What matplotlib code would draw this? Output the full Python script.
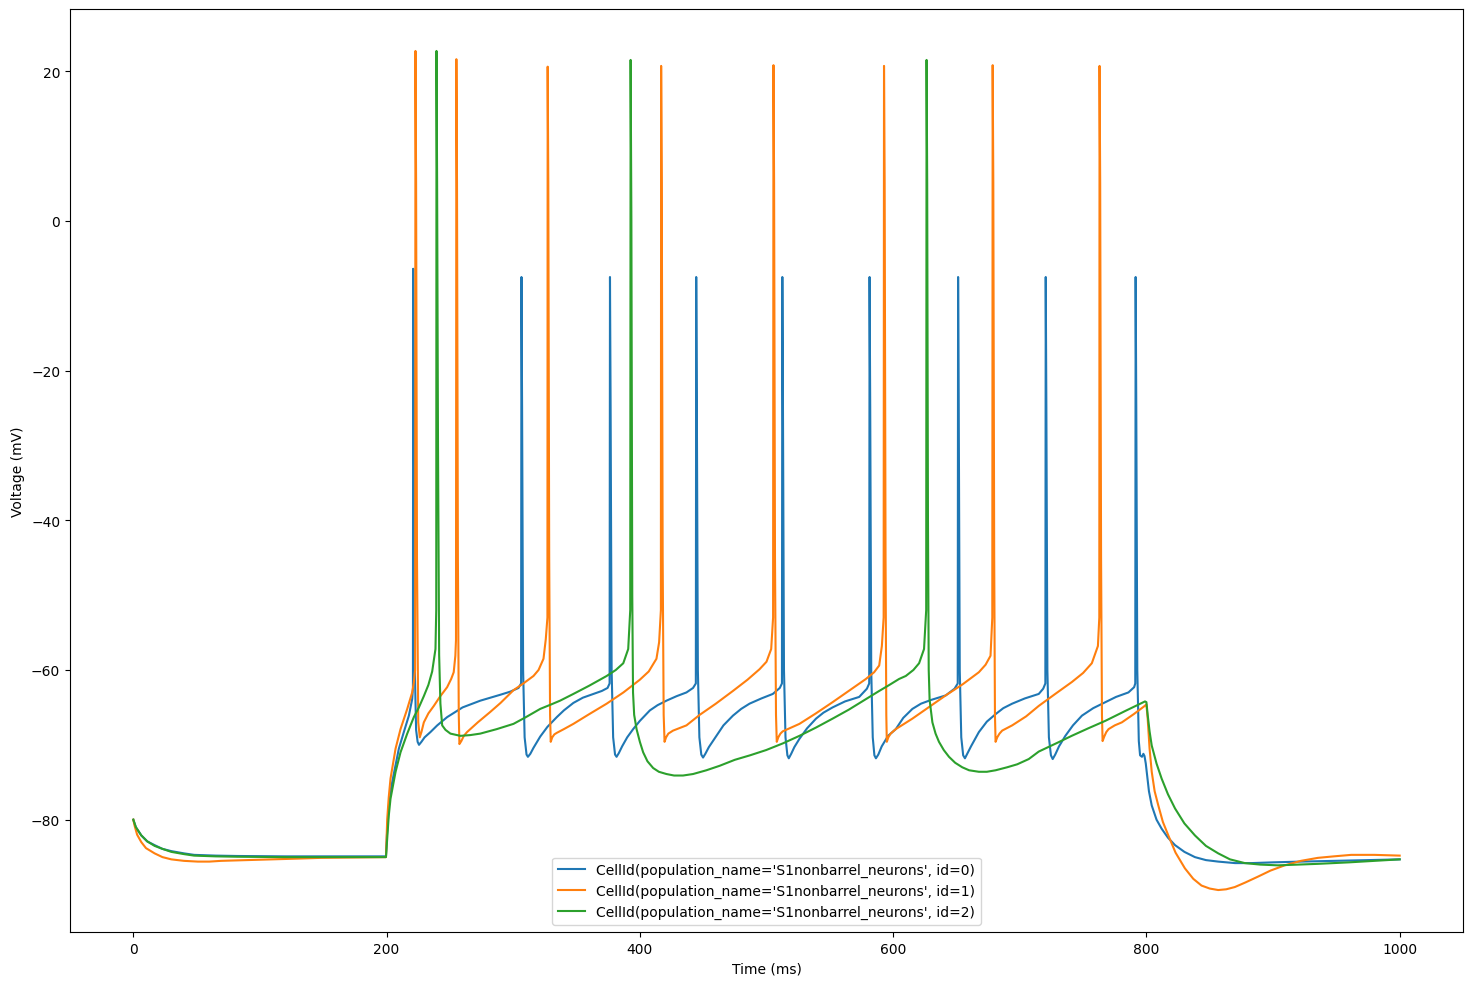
import matplotlib
matplotlib.use("Agg")
import matplotlib.pyplot as plt

labels = [
    "CellId(population_name='S1nonbarrel_neurons', id=0)",
    "CellId(population_name='S1nonbarrel_neurons', id=1)",
    "CellId(population_name='S1nonbarrel_neurons', id=2)",
]

# ---- cell 0 (blue) : time (ms), voltage (mV)
t0 = [0, 2, 6.3, 11, 16.8, 23, 30, 40, 48, 65, 82, 120, 160, 199.5,
      200.3, 201.8, 203.5, 205.8, 209.7, 213.6, 217.6, 220.2, 220.8,
      221.0, 221.5, 222.3, 223.3, 224.5, 225.6, 227.5, 230, 234.6, 240, 247.8, 260, 274, 290, 297.6, 304.2, 306.2,
      306.5, 307.0, 307.8, 309.0, 310.5, 311.6, 313.5, 316, 321.3, 327, 334.4, 340, 347.5, 355, 363.2, 370, 374.5, 376.1,
      376.4, 376.9, 377.7, 378.9, 380.4, 381.6, 383.4, 386, 390, 394.7, 400, 407.9, 414, 421, 429, 436.8, 442.0, 444.2,
      444.5, 445.0, 445.8, 447.0, 448.5, 449.9, 451.7, 454.5, 460.4, 466, 473.5, 480, 486.6, 496, 505, 510.5, 512.2,
      512.5, 513.0, 513.8, 515.0, 516.5, 517.6, 519.5, 522, 526, 532, 539.1, 545, 552.2, 562, 573.2, 579.3, 581.1,
      581.4, 581.9, 582.7, 583.9, 585.2, 586.4, 588.3, 591, 596, 602.1, 608, 615.2, 622, 630, 641.5, 648.5, 651.0,
      651.3, 651.8, 652.6, 653.8, 655.3, 656.7, 658.5, 661.5, 667.7, 674, 680.9, 687, 694, 704, 715, 718.5, 720.2,
      720.5, 721.0, 721.8, 723.0, 724.6, 726.0, 728, 731, 736, 742, 749.1, 758, 767.5, 776, 785.8, 790.3, 791.2,
      791.5, 792.0, 792.8, 794.0, 795.0, 796.5, 797.6, 798.5, 799.5, 800.5, 802, 804.2, 808, 812, 817, 822.6, 830,
      838.3, 847, 856.7, 870, 882.9, 900, 922, 950, 975, 1000]
v0 = [-80.0, -81.0, -82.1, -82.9, -83.4, -83.9, -84.2, -84.5, -84.7, -84.8, -84.85, -84.9, -84.9, -84.9,
      -82.0, -78.2, -75.8, -73.8, -70.5, -68.3, -66.1, -63.9, -62.5,
      -6.4, -25, -60, -68, -69.6, -70.0, -69.6, -69.0, -68.3, -67.4, -66.3, -65.0, -64.1, -63.3, -62.9, -62.4, -61.8,
      -7.5, -25, -60, -69, -71.3, -71.6, -71.2, -70.4, -68.9, -67.6, -66.3, -65.4, -64.4, -63.7, -63.2, -62.8, -62.4, -61.8,
      -7.5, -25, -60, -69, -71.3, -71.6, -71.1, -70.2, -69.0, -67.9, -66.8, -65.4, -64.7, -64.1, -63.5, -63.0, -62.4, -61.8,
      -7.5, -25, -60, -69, -71.3, -71.7, -71.2, -70.3, -68.8, -67.4, -66.1, -65.2, -64.5, -63.8, -63.2, -62.4, -61.8,
      -7.5, -25, -60, -69, -71.4, -71.8, -71.2, -70.3, -69.2, -67.8, -66.5, -65.7, -65.0, -64.2, -63.6, -62.5, -61.8,
      -7.5, -25, -60, -69, -71.4, -71.8, -71.3, -70.2, -68.8, -67.9, -66.4, -65.2, -64.5, -64.0, -63.4, -62.5, -61.8,
      -7.5, -25, -60, -69, -71.4, -71.8, -71.2, -70.2, -68.3, -66.9, -65.9, -65.1, -64.5, -63.8, -63.2, -62.5, -61.8,
      -7.5, -25, -60, -69, -71.4, -71.9, -71.3, -70.2, -68.8, -67.4, -66.1, -65.1, -64.3, -63.6, -63.0, -62.3, -61.8,
      -7.5, -25, -60, -69.5, -71.4, -71.6, -71.2, -71.5, -72.5, -74.0, -76.2, -78.1, -80.0, -81.2, -82.4, -83.4, -84.3,
      -85.0, -85.4, -85.6, -85.8, -85.8, -85.7, -85.6, -85.5, -85.4, -85.3]

# ---- cell 1 (orange)
t1 = [0, 1, 3, 6.3, 10, 16.8, 23, 30, 40, 50.9, 60, 69.3, 90, 108.7, 130, 148, 175, 199.5,
      200.5, 201.7, 203.1, 207.1, 211, 216.3, 220.2, 221.5, 222.5,
      222.8, 223.3, 224.0, 225.0, 226.2, 227.5, 229.4, 233, 237.3, 242, 247.8, 251, 253, 254.3, 254.8,
      255.1, 255.6, 256.3, 257.0, 257.5, 259, 261, 263.5, 272, 281.9, 290, 300.2, 308, 316, 320, 323.9, 325.7, 327.0,
      327.2, 327.7, 328.4, 329.1, 329.6, 330.8, 332.5, 334.4, 340, 347.5, 360, 373.8, 387, 400, 407, 413.1, 415.2, 416.6,
      416.8, 417.3, 418.0, 418.8, 419.5, 420.7, 422.5, 426.2, 436.8, 447.2, 460, 473.5, 485, 494.5, 500, 503.7, 505.2,
      505.5, 506.0, 506.7, 507.5, 508.1, 509.3, 511, 512.8, 518, 526, 539, 552.2, 565, 578.5, 585, 589, 591.1, 592.5,
      592.8, 593.3, 594.0, 594.6, 595.0, 596.2, 598, 602.1, 615.2, 628, 641.5, 655, 667.7, 673, 676.9, 678.3,
      678.6, 679.1, 679.8, 680.4, 680.9, 682.2, 684, 686.1, 694, 705, 715, 728, 741.2, 750, 756.9, 761.7, 762.8,
      763.0, 763.5, 764.2, 764.9, 765.4, 766.7, 768.3, 770.1, 775, 780.6, 790, 797.9, 800, 801, 802.5, 804.2,
      806.5, 809.4, 813, 817.3, 823, 830.4, 837, 843.5, 850, 856.7, 863, 869.8, 878, 888.2, 898, 909.2, 922,
      935.4, 948, 961.7, 980, 1000]
v1 = [-80.0, -80.8, -82.0, -83.0, -83.8, -84.5, -85.0, -85.3, -85.5, -85.6, -85.6, -85.5, -85.4, -85.3, -85.2, -85.1, -85.05, -85.0,
      -79.9, -77.0, -74.5, -70.5, -67.9, -65.2, -63.0, -61.7, -60.0,
      22.7, 5, -45, -67, -69.0, -68.3, -67.0, -65.8, -64.8, -63.6, -62.3, -61.2, -60.3, -58.1, -56.0,
      21.6, 5, -45, -66, -69.9, -69.5, -68.8, -68.3, -67.0, -65.6, -64.4, -62.7, -61.8, -60.8, -60.0, -58.5, -55.9, -53.0,
      20.6, 5, -45, -66, -69.6, -69.0, -68.6, -68.4, -67.9, -67.2, -65.9, -64.5, -63.0, -61.3, -60.2, -58.5, -56.3, -52.0,
      20.7, 5, -45, -66, -69.6, -69.0, -68.5, -68.1, -67.4, -66.0, -64.5, -62.8, -61.3, -59.9, -58.9, -57.2, -53.0,
      20.8, 5, -45, -66, -69.6, -69.0, -68.5, -68.2, -67.8, -67.2, -65.8, -64.3, -62.8, -61.2, -60.3, -59.4, -56.8, -53.0,
      20.7, 5, -45, -66, -69.6, -69.0, -68.5, -67.9, -66.5, -65.0, -63.4, -61.9, -60.3, -59.3, -58.1, -53.0,
      20.8, 5, -45, -66, -69.6, -69.0, -68.5, -68.1, -67.4, -66.2, -64.8, -63.2, -61.6, -60.4, -59.1, -56.8, -53.0,
      20.7, 5, -45, -66, -69.5, -68.9, -68.3, -67.9, -67.4, -67.0, -65.9, -64.9, -64.6, -66.5, -70.5, -73.6,
      -76.2, -78.1, -80.3, -82.1, -84.4, -86.5, -87.9, -88.8, -89.2, -89.4, -89.3, -89.0, -88.4, -87.6, -86.8, -86.1, -85.5,
      -85.1, -84.9, -84.7, -84.7, -84.8]

# ---- cell 2 (green)
t2 = [0, 2, 6.3, 11, 16.8, 23, 30, 40, 48, 65, 82, 120, 160, 199.5,
      200.5, 201.7, 203.1, 207.1, 211, 216.3, 221.5, 225.5, 229.4, 233, 236, 238.6, 239.2,
      239.4, 239.9, 240.6, 241.5, 242.5, 243.9, 246.5, 250.4, 258.3, 266, 274, 287, 300.2, 310, 321.3, 330, 337,
      347.5, 360, 373.8, 381, 386.9, 390.8, 392.4,
      392.7, 393.3, 394.0, 394.6, 395.5, 397.4, 400, 402.6, 406, 410.5, 415, 421, 427, 434.1, 442, 452.5, 463, 475,
      487, 499.7, 513, 526, 539, 552.2, 565, 578.5, 589, 597, 604.7, 610, 616, 620.5, 624.4, 626.1,
      626.4, 626.9, 627.5, 628.1, 628.8, 631, 633.5, 636.2, 640, 644.1, 649, 654.6, 660, 667.7, 674, 680.9, 690,
      698, 707.1, 715, 730, 741, 754, 767.5, 783, 798.9, 800, 801, 802.5, 804.2, 808, 812, 817, 822.6, 830, 838.3,
      847, 856.7, 866, 877.7, 890, 903.9, 920, 935.4, 960, 980, 1000]
v2 = [-80.0, -81.0, -82.1, -82.9, -83.5, -83.9, -84.3, -84.6, -84.8, -84.9, -84.95, -85.0, -85.0, -85.0,
      -82.5, -79.5, -77.2, -73.6, -71.0, -68.5, -66.3, -65.0, -63.5, -62.0, -60.2, -57.2, -52.0,
      22.7, 5, -30, -58, -64.5, -67.4, -68.0, -68.5, -68.8, -68.7, -68.5, -67.9, -67.2, -66.3, -65.2, -64.6, -64.1,
      -63.2, -62.1, -60.8, -60.0, -59.1, -57.2, -52.0,
      21.5, 0, -50, -63, -66, -67.9, -69.6, -71.0, -72.2, -73.1, -73.6, -73.9, -74.1, -74.1, -73.9, -73.4, -72.8, -72.0,
      -71.4, -70.7, -69.8, -68.8, -67.7, -66.5, -65.3, -63.9, -62.8, -62.0, -61.2, -60.8, -60.0, -59.1, -57.2, -52.0,
      21.5, 5, -40, -60, -64, -67.0, -68.5, -69.6, -70.7, -71.6, -72.4, -73.0, -73.4, -73.6, -73.6, -73.4, -73.0,
      -72.6, -71.9, -70.9, -69.7, -68.8, -67.8, -66.8, -65.5, -64.2, -64.3, -66.0, -68.2, -70.1, -72.5, -74.5, -76.6, -78.5, -80.5, -82.1,
      -83.5, -84.5, -85.3, -85.8, -86.0, -86.1, -86.0, -85.9, -85.7, -85.5, -85.3]

fig = plt.figure(figsize=(14.73, 9.87), dpi=100)
ax = fig.add_subplot(111)
fig.subplots_adjust(left=70 / 1473, right=1463 / 1473, bottom=1 - 933 / 987, top=1 - 10 / 987)

for t, v, lab in zip([t0, t1, t2], [v0, v1, v2], labels):
    ax.plot(t, v, label=lab, linewidth=1.5)

ax.set_xlabel("Time (ms)")
ax.set_ylabel("Voltage (mV)")
ax.legend(loc="lower center")

fig.savefig("out.png", dpi=100)
